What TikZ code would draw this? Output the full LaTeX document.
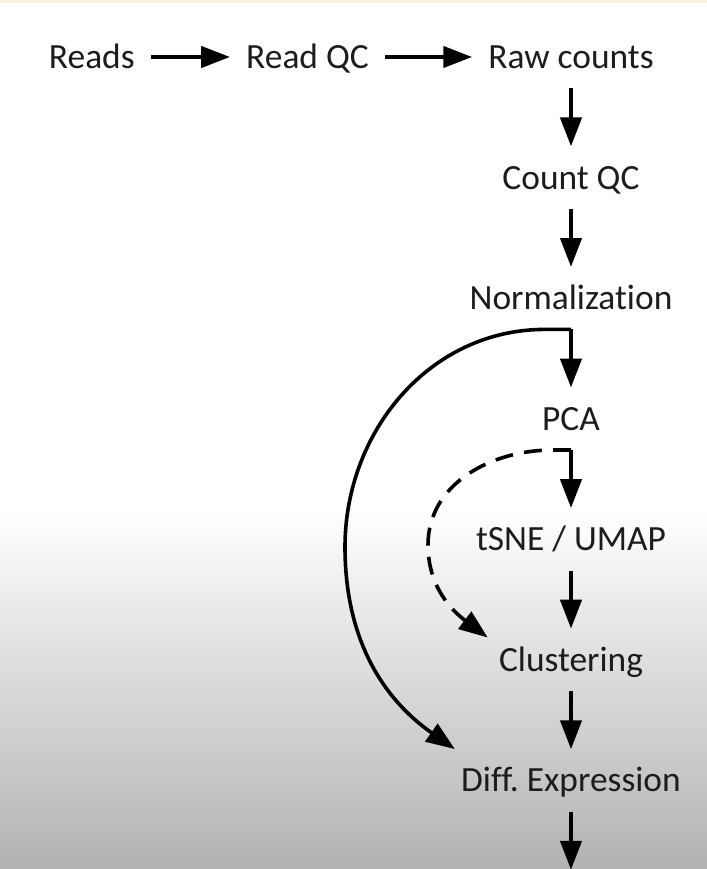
\documentclass[tikz,border=0pt]{standalone}
\usepackage{fontspec}
\setmainfont{Carlito}[Ligatures=NoCommon]
\frenchspacing
\usetikzlibrary{arrows.meta, positioning}
\definecolor{bggray}{RGB}{178,178,178}
\definecolor{topline}{RGB}{248,240,222}
\definecolor{textgray}{RGB}{28,28,28}

\begin{document}
\begin{tikzpicture}[
    node distance=1.45cm,
    stage/.style={inner xsep=0.4cm, inner ysep=0pt, minimum height=1.55cm, text height=0.62cm, text depth=0.045cm, font=\fontsize{25.2}{30}\selectfont, text=textgray},
    arrow/.style={-{Triangle[length=0.72cm, width=0.53cm]}, line width=0.09cm},
    dasharrow/.style={arrow, dash pattern=on 0.45cm off 0.28cm}
]

% Background
\useasboundingbox (0,0) rectangle (17.675,21.725);
\fill[white] (0,0) rectangle (17.675,21.725);
\shade[top color=white, bottom color=bggray] (0,0) rectangle (17.675,9.0);
\fill[topline] (0,21.65) rectangle (17.675,21.725);

% Row 1: Reads to counts
\node[stage] (raw) at (14.275,20.3) {Raw counts};
\node[stage, left=2.175cm of raw] (readqc) {Read QC};
\node[stage, left=1.975cm of readqc] (reads) {Reads};

% Column: analysis steps
\node[stage, below=of raw] (countqc) {Count QC};
\node[stage, below=of countqc] (norm) {Normalization};
\node[stage, below=of norm] (pca) {PCA};
\node[stage, below=of pca] (tsne) {tSNE / UMAP};
\node[stage, below=of tsne] (clust) {Clustering};
\node[stage, below=of clust] (diff) {Diff. Expression};
\coordinate[below=of diff] (next);

% Bend points of the side paths
\coordinate (normbend) at (8.625,8.05);
\coordinate (pcabend) at (10.7,8.1);

% Arrows - main flow
\draw[arrow] (reads) -- (readqc);
\draw[arrow] (readqc) -- (raw);
\draw[arrow] (raw) -- (countqc);
\draw[arrow] (countqc) -- (norm);
\draw[arrow] (norm) -- (pca);
\draw[arrow] (pca) -- (tsne);
\draw[arrow] (tsne) -- (clust);
\draw[arrow] (clust) -- (diff);
\draw[arrow] (diff) -- (next);

% Arrows - side paths
\draw[arrow] (norm.south) -- ++(-0.65,0) to[out=180,in=90] (normbend) to[out=-90,in=145] ([xshift=0.25cm]diff.north west);
\draw[dasharrow] (pca.south) -- ++(-0.45,0) to[out=180,in=90] (pcabend) to[out=-90,in=143] ([xshift=0.125cm,yshift=-0.225cm]clust.north west);

\end{tikzpicture}
\end{document}
